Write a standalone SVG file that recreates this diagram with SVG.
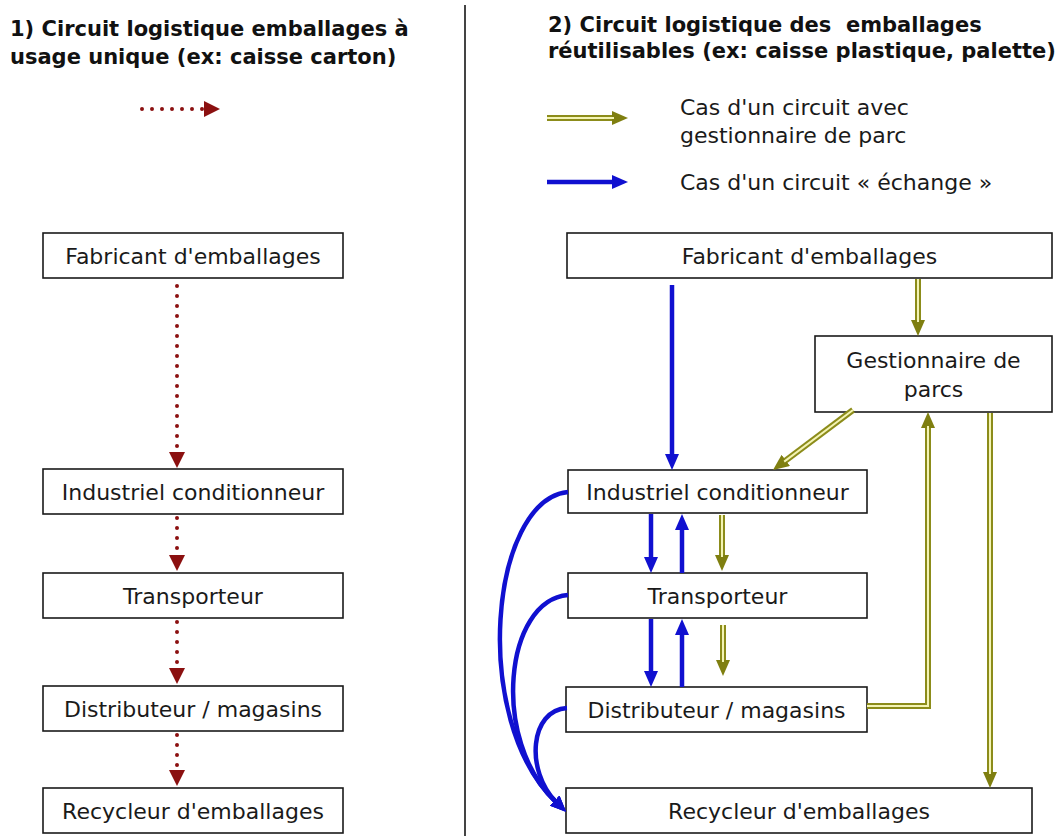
<svg xmlns="http://www.w3.org/2000/svg" width="1061" height="836" viewBox="0 0 1061 836">
  <style>
    .box { fill: #ffffff; stroke: #1a1a1a; stroke-width: 1.6; }
    .n { font-family: "DejaVu Sans", "Liberation Sans", sans-serif; font-size: 22px; fill: #1a1a1a; text-anchor: middle; }
    .lg { font-family: "DejaVu Sans", "Liberation Sans", sans-serif; font-size: 22px; fill: #1a1a1a; }
    .t { font-family: "DejaVu Sans", "Liberation Sans", sans-serif; font-weight: bold; font-size: 21px; fill: #111111; white-space: pre; }
    .red { fill: none; stroke: #8b1010; stroke-width: 4; stroke-dasharray: 0 10; stroke-linecap: round; }
    .blue { fill: none; stroke: #1010d0; stroke-width: 4.5; }
    .olo { fill: none; stroke: #8c8c1a; stroke-width: 6; stroke-linejoin: miter; }
    .oli { fill: none; stroke: #f4f4b4; stroke-width: 2; stroke-linejoin: miter; }
  </style>
  <defs>
    <marker id="mr" markerUnits="userSpaceOnUse" markerWidth="16" markerHeight="16" viewBox="0 0 16 16" refX="2" refY="8" orient="auto">
      <path d="M0,0 L16,8 L0,16 z" fill="#8b1010"/>
    </marker>
    <marker id="mb" markerUnits="userSpaceOnUse" markerWidth="16" markerHeight="14" viewBox="0 0 16 14" refX="2" refY="7" orient="auto">
      <path d="M0,0 L16,7 L0,14 z" fill="#1010d0"/>
    </marker>
    <marker id="mo" markerUnits="userSpaceOnUse" markerWidth="16" markerHeight="14" viewBox="0 0 16 14" refX="2" refY="7" orient="auto">
      <path d="M0,0 L16,7 L0,14 z" fill="#7f7f10"/>
    </marker>
  </defs>
  <rect x="0" y="0" width="1061" height="836" fill="#ffffff"/>

  <!-- divider -->
  <line x1="465" y1="5" x2="465" y2="836" stroke="#444444" stroke-width="2"/>

  <!-- titles -->
  <g id="title1">
    <text class="t" x="10" y="36">1) Circuit logistique emballages à</text>
    <text class="t" x="10" y="64">usage unique (ex: caisse carton)</text>
  </g>
  <g id="title2">
    <text class="t" x="548" y="32">2) Circuit logistique des  emballages</text>
    <text class="t" x="548" y="58">réutilisables (ex: caisse plastique, palette)</text>
  </g>

  <!-- legends -->
  <g id="legend">
    <line class="red" x1="142" y1="109" x2="206" y2="109" marker-end="url(#mr)"/>
    <line class="olo" x1="547" y1="118" x2="614" y2="118" marker-end="url(#mo)"/>
    <line class="oli" x1="547" y1="118" x2="614" y2="118"/>
    <text class="lg" x="680" y="115">Cas d'un circuit avec</text>
    <text class="lg" x="680" y="143">gestionnaire de parc</text>
    <line class="blue" x1="547" y1="182" x2="614" y2="182" marker-end="url(#mb)"/>
    <text class="lg" x="680" y="190">Cas d'un circuit « échange »</text>
  </g>

  <!-- left nodes -->
  <g id="l-fabricant"><rect class="box" x="43" y="233" width="300" height="45"/><text class="n" x="193" y="264">Fabricant d'emballages</text></g>
  <g id="l-industriel"><rect class="box" x="43" y="469" width="300" height="45"/><text class="n" x="193" y="500">Industriel conditionneur</text></g>
  <g id="l-transporteur"><rect class="box" x="43" y="573" width="300" height="45"/><text class="n" x="193" y="604">Transporteur</text></g>
  <g id="l-distributeur"><rect class="box" x="43" y="686" width="300" height="45"/><text class="n" x="193" y="717">Distributeur / magasins</text></g>
  <g id="l-recycleur"><rect class="box" x="43" y="788" width="300" height="45"/><text class="n" x="193" y="819">Recycleur d'emballages</text></g>

  <!-- right nodes -->
  <g id="r-fabricant"><rect class="box" x="567" y="233" width="485" height="45"/><text class="n" x="809.5" y="264">Fabricant d'emballages</text></g>
  <g id="r-gestionnaire"><rect class="box" x="815" y="336" width="237" height="76"/><text class="n" x="933.5" y="368">Gestionnaire de</text><text class="n" x="933.5" y="397">parcs</text></g>
  <g id="r-industriel"><rect class="box" x="568" y="470" width="299" height="43"/><text class="n" x="717.5" y="500">Industriel conditionneur</text></g>
  <g id="r-transporteur"><rect class="box" x="568" y="573" width="299" height="45"/><text class="n" x="717.5" y="604">Transporteur</text></g>
  <g id="r-distributeur"><rect class="box" x="566" y="687" width="301" height="45"/><text class="n" x="716.5" y="718">Distributeur / magasins</text></g>
  <g id="r-recycleur"><rect class="box" x="566" y="788" width="466" height="45"/><text class="n" x="799" y="819">Recycleur d'emballages</text></g>

  <!-- connectors -->
  <g id="connectors">
    <!-- left single-use circuit -->
    <line class="red" x1="177" y1="286" x2="177" y2="454" marker-end="url(#mr)"/>
    <line class="red" x1="177" y1="518" x2="177" y2="557" marker-end="url(#mr)"/>
    <line class="red" x1="177" y1="622" x2="177" y2="670" marker-end="url(#mr)"/>
    <line class="red" x1="177" y1="735" x2="177" y2="772" marker-end="url(#mr)"/>

    <!-- blue exchange circuit -->
    <line class="blue" x1="672" y1="285" x2="672" y2="456" marker-end="url(#mb)"/>
    <line class="blue" x1="651" y1="514" x2="651" y2="559" marker-end="url(#mb)"/>
    <line class="blue" x1="682" y1="573" x2="682" y2="528" marker-end="url(#mb)"/>
    <line class="blue" x1="651" y1="619" x2="651" y2="673" marker-end="url(#mb)"/>
    <line class="blue" x1="682" y1="687" x2="682" y2="633" marker-end="url(#mb)"/>
    <path class="blue" d="M568,492 C490,500 470,720 556,802" marker-end="url(#mb)"/>
    <path class="blue" d="M568,595 C505,600 490,740 556,802" marker-end="url(#mb)"/>
    <path class="blue" d="M567,708 C530,710 525,770 556,802" marker-end="url(#mb)"/>

    <!-- olive park-manager circuit -->
    <line class="olo" x1="918" y1="279" x2="918" y2="322" marker-end="url(#mo)"/>
    <line class="oli" x1="918" y1="279" x2="918" y2="322"/>
    <line class="olo" x1="853" y1="410" x2="784.2" y2="461.6" marker-end="url(#mo)"/>
    <line class="oli" x1="853" y1="410" x2="784.2" y2="461.6"/>
    <path class="olo" d="M867,706 H928 V426" marker-end="url(#mo)"/>
    <path class="oli" d="M867,706 H928 V426"/>
    <line class="olo" x1="990" y1="413" x2="990" y2="774" marker-end="url(#mo)"/>
    <line class="oli" x1="990" y1="413" x2="990" y2="774"/>
    <line class="olo" x1="722" y1="515" x2="722" y2="557" marker-end="url(#mo)"/>
    <line class="oli" x1="722" y1="515" x2="722" y2="557"/>
    <line class="olo" x1="723" y1="625" x2="723" y2="662" marker-end="url(#mo)"/>
    <line class="oli" x1="723" y1="625" x2="723" y2="662"/>
  </g>
</svg>
